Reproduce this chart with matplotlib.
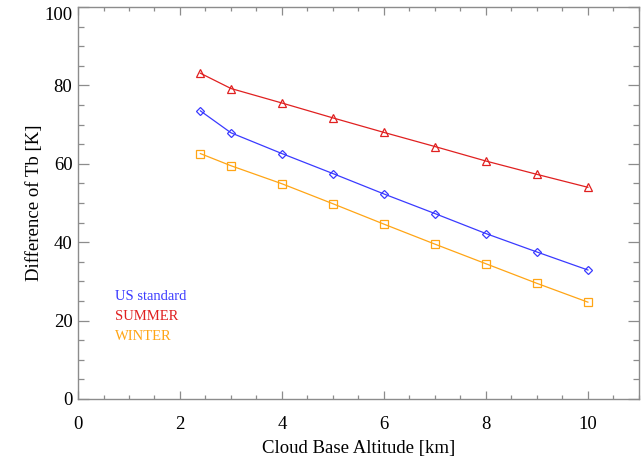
#!/usr/bin/env python3
"""
Brightness temperature difference against cloud base altitude
for three standard atmospheres.
"""
import matplotlib
matplotlib.use('Agg')
import matplotlib.pyplot as plt
from matplotlib.ticker import MultipleLocator, FuncFormatter

# Cloud base altitude [km]
altitude = [2.4, 3, 4, 5, 6, 7, 8, 9, 10]

# Difference of Tb [K] for each profile
us_standard = [73.5, 67.9, 62.6, 57.5, 52.3, 47.3, 42.2, 37.5, 32.9]
summer = [83.1, 79.2, 75.5, 71.7, 68.0, 64.4, 60.7, 57.3, 54.0]
winter = [62.6, 59.5, 54.9, 49.8, 44.6, 39.5, 34.5, 29.5, 24.7]

profile_names = ['US standard', 'SUMMER', 'WINTER']

BLUE = '#3a3aff'
RED = '#e02020'
ORANGE = '#ffa515'
AXIS_GRAY = '#8c8c8c'
YMAX = 100

plt.rcParams['font.family'] = ['Liberation Serif', 'DejaVu Serif']

fig = plt.figure(figsize=(6.41, 4.62), dpi=100)
ax = fig.add_axes([0.1217, 0.1364, 0.875, 0.8485])

ax.plot(altitude, us_standard, color=BLUE, lw=0.9, marker='D', ms=4.2,
        mfc='none', mec=BLUE, mew=0.9)
ax.plot(altitude, summer, color=RED, lw=0.9, marker='^', ms=6,
        mfc='none', mec=RED, mew=0.9)
ax.plot(altitude, winter, color=ORANGE, lw=0.9, marker='s', ms=5.5,
        mfc='none', mec=ORANGE, mew=0.9)

# text legend in the lower left corner
for name, color, ypos in zip(profile_names, [BLUE, RED, ORANGE], [26.2, 21.0, 15.9]):
    ax.text(0.72, ypos, name, color=color, fontsize=10.5, va='center', ha='left')

ax.set_xlim(0, 11)
ax.set_ylim(0, YMAX)
ax.xaxis.set_major_locator(MultipleLocator(2))
ax.xaxis.set_minor_locator(MultipleLocator(0.5))
ax.yaxis.set_major_locator(MultipleLocator(20))
ax.yaxis.set_minor_locator(MultipleLocator(5))

# the top label is drawn separately, a little below the frame corner
ax.yaxis.set_major_formatter(FuncFormatter(lambda v, pos: '' if v >= YMAX else f'{v:.0f}'))
ax.annotate(f'{YMAX}', xy=(0, YMAX), xycoords='data', xytext=(-4, -6),
            textcoords='offset points', ha='right', va='center', fontsize=13.5,
            annotation_clip=False)

for spine in ax.spines.values():
    spine.set_color(AXIS_GRAY)
    spine.set_linewidth(1.0)

ax.tick_params(which='both', direction='in', top=True, right=True,
               color=AXIS_GRAY, width=0.9, labelsize=13.5)
ax.tick_params(axis='x', which='major', length=6, pad=12)
ax.tick_params(axis='x', which='minor', length=3)
ax.tick_params(axis='y', which='major', length=8, pad=4)
ax.tick_params(axis='y', which='minor', length=4.5)

ax.set_xlabel('Cloud Base Altitude [km]', fontsize=13.5, labelpad=5)
ax.set_ylabel('Difference of Tb [K]', fontsize=13.5, labelpad=8)

fig.savefig('out.png', dpi=100)
plt.close(fig)
